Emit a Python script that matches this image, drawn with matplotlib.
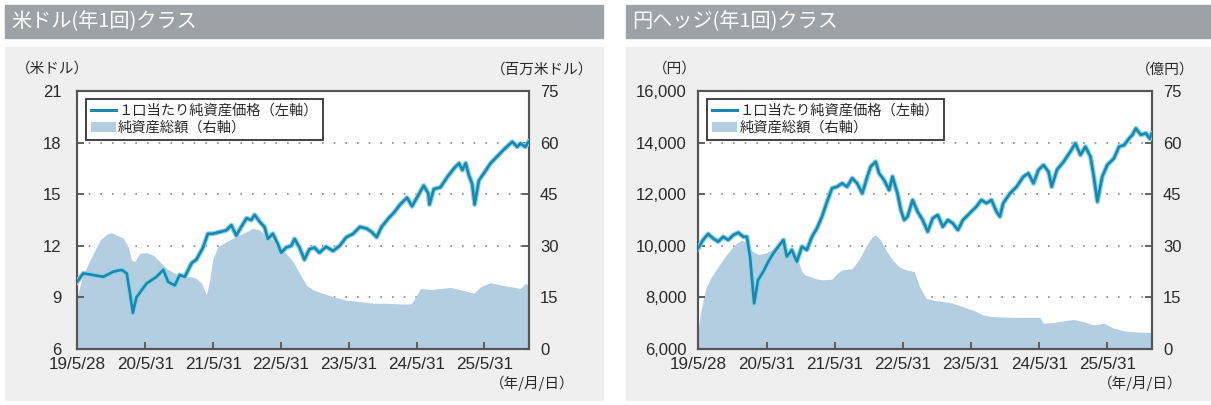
import matplotlib
matplotlib.use("Agg")
import matplotlib.pyplot as plt
import matplotlib.patheffects as pe
from matplotlib.patches import Rectangle
from matplotlib.lines import Line2D
import pandas as pd

plt.rcParams['font.family'] = ['Noto Sans CJK JP', 'DejaVu Sans']

W, H = 1211, 405

# ---- data ----
x_start = "2019-05-28"
x_end = "2026-01-26"
tick_dates = ["2019-05-28", "2020-05-31", "2021-05-31", "2022-05-31",
              "2023-05-31", "2024-05-31", "2025-05-31"]
tick_labels = ["19/5/28", "20/5/31", "21/5/31", "22/5/31",
               "23/5/31", "24/5/31", "25/5/31"]

legend_labels = ["１口当たり純資産価格（左軸）", "純資産総額（右軸）"]

# 米ドル(年1回)クラス
usd_title = "米ドル(年1回)クラス"
usd_left_unit = "（米ドル）"
usd_right_unit = "（百万米ドル）"
usd_left_ticks = [6, 9, 12, 15, 18, 21]
usd_left_labels = ["6", "9", "12", "15", "18", "21"]
usd_right_ticks = [0, 15, 30, 45, 60, 75]
usd_right_labels = ["0", "15", "30", "45", "60", "75"]

usd_nav_dates = [
    "2019-05-28", "2019-07-01", "2019-08-24", "2019-10-17", "2019-12-10", "2020-01-24",
    "2020-02-20", "2020-03-09", "2020-03-24", "2020-04-12", "2020-06-05", "2020-07-29",
    "2020-09-04", "2020-09-30", "2020-11-05", "2020-12-01", "2020-12-29", "2021-02-04",
    "2021-03-01", "2021-04-06", "2021-05-02", "2021-05-28", "2021-07-04", "2021-08-10",
    "2021-09-05", "2021-10-02", "2021-10-29", "2021-11-26", "2021-12-22", "2022-01-09",
    "2022-02-05", "2022-03-03", "2022-03-21", "2022-04-17", "2022-05-14", "2022-06-01",
    "2022-06-28", "2022-07-25", "2022-08-12", "2022-09-08", "2022-10-04", "2022-10-31",
    "2022-11-27", "2022-12-24", "2023-01-29", "2023-03-07", "2023-04-12", "2023-05-18",
    "2023-06-24", "2023-07-30", "2023-09-05", "2023-10-02", "2023-10-28", "2023-11-24",
    "2023-12-31", "2024-01-27", "2024-03-03", "2024-04-09", "2024-05-06", "2024-06-01",
    "2024-07-08", "2024-08-01", "2024-08-08", "2024-08-31", "2024-10-06", "2024-11-12",
    "2024-12-18", "2025-01-14", "2025-02-01", "2025-02-19", "2025-03-08", "2025-03-26",
    "2025-04-08", "2025-05-01", "2025-05-27", "2025-07-03", "2025-08-08", "2025-09-13",
    "2025-10-28", "2025-11-23", "2025-12-11", "2026-01-06", "2026-01-24"]
usd_nav = [
    9.9, 10.4, 10.3, 10.2, 10.5, 10.6,
    10.4, 9.2, 8.1, 9.0, 9.8, 10.2,
    10.6, 9.9, 9.7, 10.3, 10.2, 11.0,
    11.2, 11.9, 12.7, 12.7, 12.8, 12.9,
    13.2, 12.6, 13.1, 13.6, 13.5, 13.8,
    13.4, 13.1, 12.4, 12.7, 12.1, 11.6,
    11.9, 12.0, 12.4, 11.9, 11.2, 11.8,
    11.9, 11.6, 11.95, 11.7, 12.0, 12.5,
    12.7, 13.1, 13.0, 12.8, 12.5, 13.1,
    13.6, 13.9, 14.4, 14.8, 14.3, 14.8,
    15.5, 15.05, 14.4, 15.3, 15.4, 16.0,
    16.5, 16.8, 16.4, 16.8, 16.1, 15.6,
    14.4, 15.8, 16.2, 16.8, 17.2, 17.6,
    18.05, 17.75, 17.95, 17.75, 18.05]

usd_aum_dates = [
    "2019-05-28", "2019-06-21", "2019-07-20", "2019-08-24", "2019-09-30", "2019-11-05",
    "2019-12-01", "2019-12-28", "2020-02-02", "2020-02-28", "2020-03-16", "2020-04-03",
    "2020-04-30", "2020-06-05", "2020-07-11", "2020-08-16", "2020-09-21", "2020-11-05",
    "2020-12-20", "2021-02-04", "2021-03-01", "2021-03-29", "2021-04-24", "2021-05-12",
    "2021-05-28", "2021-06-24", "2021-08-10", "2021-10-02", "2021-11-26", "2021-12-31",
    "2022-02-05", "2022-03-13", "2022-04-17", "2022-05-24", "2022-06-28", "2022-08-04",
    "2022-09-08", "2022-10-14", "2022-11-19", "2023-01-11", "2023-03-07", "2023-05-18",
    "2023-07-30", "2023-10-11", "2023-12-21", "2024-03-03", "2024-04-27", "2024-05-15",
    "2024-06-21", "2024-08-13", "2024-10-06", "2024-11-30", "2025-01-22", "2025-04-05",
    "2025-05-10", "2025-07-03", "2025-08-26", "2025-10-20", "2025-12-11", "2026-01-06",
    "2026-01-26"]
usd_aum = [
    15.0, 20.0, 23.9, 27.8, 31.7, 33.4,
    33.8, 33.1, 32.2, 29.7, 25.9, 25.4,
    27.8, 28.0, 27.3, 25.4, 23.4, 22.0,
    21.0, 21.0, 20.5, 19.1, 15.7, 20.1,
    25.9, 29.7, 31.2, 32.7, 34.1, 35.1,
    34.6, 32.7, 31.7, 29.7, 27.8, 25.4,
    22.0, 18.6, 17.2, 16.2, 15.2, 14.2,
    13.8, 13.3, 13.3, 13.1, 13.1, 14.2,
    17.6, 17.3, 17.6, 17.9, 17.2, 16.2,
    18.1, 19.3, 18.6, 18.1, 17.6, 19.1,
    18.6]

# 円ヘッジ(年1回)クラス
jpy_title = "円ヘッジ(年1回)クラス"
jpy_left_unit = "（円）"
jpy_right_unit = "（億円）"
jpy_left_ticks = [6000, 8000, 10000, 12000, 14000, 16000]
jpy_left_labels = ["6,000", "8,000", "10,000", "12,000", "14,000", "16,000"]
jpy_right_ticks = [0, 15, 30, 45, 60, 75]
jpy_right_labels = ["0", "15", "30", "45", "60", "75"]

jpy_nav_dates = [
    "2019-05-28", "2019-06-24", "2019-07-21", "2019-08-17", "2019-09-13", "2019-10-10",
    "2019-11-06", "2019-12-04", "2019-12-30", "2020-01-26", "2020-02-14", "2020-03-02",
    "2020-03-24", "2020-04-14", "2020-05-12", "2020-06-08", "2020-07-05", "2020-08-01",
    "2020-08-28", "2020-09-15", "2020-10-12", "2020-11-08", "2020-12-05", "2021-01-01",
    "2021-01-28", "2021-02-24", "2021-03-23", "2021-04-19", "2021-05-16", "2021-06-12",
    "2021-07-09", "2021-08-05", "2021-09-01", "2021-09-28", "2021-10-25", "2021-11-21",
    "2021-12-09", "2022-01-05", "2022-01-23", "2022-02-19", "2022-03-18", "2022-04-05",
    "2022-05-02", "2022-05-20", "2022-06-07", "2022-06-25", "2022-07-22", "2022-08-18",
    "2022-09-14", "2022-10-11", "2022-11-07", "2022-12-04", "2022-12-31", "2023-01-27",
    "2023-02-23", "2023-03-22", "2023-04-18", "2023-05-24", "2023-06-29", "2023-07-26",
    "2023-08-22", "2023-09-18", "2023-10-15", "2023-11-02", "2023-11-20", "2023-12-26",
    "2024-01-31", "2024-03-07", "2024-04-03", "2024-04-30", "2024-05-27", "2024-06-23",
    "2024-07-20", "2024-08-06", "2024-09-03", "2024-10-09", "2024-11-14", "2024-12-11",
    "2025-01-07", "2025-02-03", "2025-03-02", "2025-03-20", "2025-04-08", "2025-05-04",
    "2025-05-31", "2025-07-06", "2025-08-02", "2025-08-29", "2025-09-25", "2025-10-13",
    "2025-10-31", "2025-11-27", "2025-12-24", "2026-01-14", "2026-01-24"]
jpy_nav = [
    9900, 10225, 10460, 10290, 10160, 10350,
    10225, 10420, 10510, 10350, 10350, 9580,
    7770, 8675, 9000, 9385, 9710, 9970,
    10225, 9580, 9840, 9385, 9970, 9840,
    10350, 10680, 11130, 11710, 12230, 12290,
    12420, 12290, 12620, 12420, 12030, 12680,
    13070, 13260, 12810, 12550, 12160, 12680,
    12030, 11390, 11000, 11130, 11775, 11320,
    11000, 10550, 11065, 11195, 10740, 11000,
    10870, 10610, 11000, 11260, 11520, 11775,
    11650, 11775, 11320, 11130, 11650, 12030,
    12290, 12680, 12810, 12420, 12940, 13130,
    12870, 12290, 12940, 13260, 13650, 13970,
    13520, 13840, 13455, 12680, 11710, 12680,
    13130, 13390, 13840, 13900, 14160, 14300,
    14550, 14300, 14360, 14150, 14350]

jpy_aum_dates = [
    "2019-05-28", "2019-06-11", "2019-06-24", "2019-07-12", "2019-08-08", "2019-09-13",
    "2019-10-19", "2019-11-24", "2019-12-21", "2020-01-17", "2020-02-14", "2020-03-13",
    "2020-04-14", "2020-05-21", "2020-07-14", "2020-08-19", "2020-10-12", "2020-11-17",
    "2020-12-05", "2020-12-23", "2021-02-15", "2021-03-23", "2021-05-16", "2021-06-12",
    "2021-07-09", "2021-09-01", "2021-10-07", "2021-11-12", "2021-12-18", "2022-01-05",
    "2022-02-01", "2022-02-28", "2022-04-05", "2022-05-11", "2022-06-16", "2022-08-01",
    "2022-08-28", "2022-10-03", "2022-11-07", "2022-12-31", "2023-02-23", "2023-04-18",
    "2023-06-11", "2023-08-04", "2023-09-27", "2024-01-12", "2024-04-30", "2024-06-04",
    "2024-06-22", "2024-08-16", "2024-10-09", "2024-12-02", "2025-01-25", "2025-03-20",
    "2025-05-13", "2025-07-06", "2025-08-29", "2025-10-22", "2026-01-26"]
jpy_aum = [
    5.0, 10.4, 14.2, 18.1, 21.0, 23.9,
    26.8, 29.3, 30.7, 31.7, 30.7, 28.5,
    27.5, 27.8, 29.3, 29.7, 27.8, 25.4,
    22.5, 21.5, 20.5, 20.1, 20.3, 22.0,
    23.0, 23.4, 25.9, 29.7, 32.7, 33.1,
    31.7, 28.8, 25.9, 23.9, 23.0, 22.5,
    18.1, 14.7, 14.2, 13.8, 13.3, 12.3,
    11.3, 9.9, 9.4, 9.2, 9.2, 9.2,
    7.5, 7.7, 8.2, 8.6, 7.9, 7.0,
    7.5, 6.0, 5.3, 5.0, 4.8]

# ---- style ----
LINE_C = "#1b87ad"
HALO_C = "#86d4ea"
FILL_C = "#b3cee0"
PANEL_BG = "#efefef"
BAR_C = "#9ca2a5"
SPINE_C = "#555555"
TEXT_C = "#2a2a2a"


def fx(x):
    return x / W


def fy(y):
    return 1 - y / H


def draw_panel(fig, x0, x1, ax_l, ax_r, title, lunit, runit, lunit_x, runit_x,
               nav_dates, nav, aum_dates, aum,
               lticks, llabels, rticks, rlabels, ypad):
    # panel background + title bar
    fig.patches.append(Rectangle((fx(x0), fy(400)), fx(x1 - x0), (400 - 47) / H,
                                 transform=fig.transFigure, color=PANEL_BG, zorder=-10))
    fig.patches.append(Rectangle((fx(x0), fy(38)), fx(x1 - x0), (38 - 5) / H,
                                 transform=fig.transFigure, color=BAR_C, zorder=-10))
    fig.text(fx(x0 + 6), fy(22), title, color="white", fontsize=14.5,
             ha="left", va="center")
    fig.text(fx(lunit_x), fy(69), lunit, color=TEXT_C, fontsize=10.5,
             ha="center", va="center")
    fig.text(fx(runit_x), fy(70), runit, color=TEXT_C, fontsize=10.5,
             ha="center", va="center")
    fig.text(fx(x1 - 28), fy(383), "（年/月/日）", color=TEXT_C, fontsize=10.5,
             ha="right", va="center")

    rect = [fx(ax_l), fy(349), fx(ax_r - ax_l), (349 - 91) / H]
    ax2 = fig.add_axes(rect)
    ax = ax2.twinx()
    ax.remove()
    ax = fig.add_axes(rect, sharex=ax2)
    ax.set_zorder(ax2.get_zorder() + 1)
    ax.patch.set_visible(False)

    # right axis: total net assets
    ad = pd.to_datetime(aum_dates)
    ax2.fill_between(ad, 0, aum, color=FILL_C, linewidth=0, zorder=2)
    for g in rticks[1:-1]:
        ax2.axhline(g, color="#8a8a8a", linewidth=1.2,
                    linestyle=(0, (1, 6)), zorder=1)
    ax2.set_ylim(rticks[0], rticks[-1])
    ax2.yaxis.tick_right()
    ax2.set_yticks(rticks, rlabels, fontsize=12, fontfamily="Liberation Sans",
                   color=TEXT_C)

    # left axis: NAV per unit
    nd = pd.to_datetime(nav_dates)
    ax.plot(nd, nav, color=LINE_C, linewidth=1.9, zorder=3,
            path_effects=[pe.Stroke(linewidth=3.6, foreground=HALO_C), pe.Normal()])
    ax.set_ylim(lticks[0], lticks[-1])
    ax.set_yticks(lticks, llabels, fontsize=12, fontfamily="Liberation Sans",
                  color=TEXT_C)
    ax.set_xlim(pd.Timestamp(x_start), pd.Timestamp(x_end))
    ax.set_xticks(pd.to_datetime(tick_dates), tick_labels, fontsize=12.3,
                  fontfamily="Liberation Sans", color=TEXT_C)

    for a in (ax, ax2):
        for s in a.spines.values():
            s.set_color(SPINE_C)
            s.set_linewidth(1.5)
    ax.tick_params(axis="y", direction="in", length=5, width=1.3,
                   color=SPINE_C, pad=ypad)
    ax.tick_params(axis="x", direction="in", length=5, width=1.3,
                   color=SPINE_C, pad=6)
    ax2.tick_params(axis="y", direction="in", length=5, width=1.3,
                    color=SPINE_C, pad=8)
    ax2.tick_params(axis="x", bottom=False, labelbottom=False)
    # no tick mark at the first date (axis corner)
    ax.xaxis.get_major_ticks()[0].tick1line.set_visible(False)

    handles = [Line2D([], [], color=LINE_C, linewidth=2.2),
               Rectangle((0, 0), 1, 1, facecolor=FILL_C, edgecolor="none")]
    leg = ax.legend(handles, legend_labels, loc="upper left",
                    bbox_to_anchor=(9 / (ax_r - ax_l), 1 - 8 / 258),
                    borderaxespad=0, fancybox=False, framealpha=1,
                    edgecolor="#333333", fontsize=10.3, handlelength=1.75,
                    handletextpad=0.15, labelspacing=0.2, borderpad=0.35)
    leg.get_frame().set_linewidth(1.3)
    for t in leg.get_texts():
        t.set_color(TEXT_C)


fig = plt.figure(figsize=(W / 100, H / 100), dpi=100)
fig.patch.set_facecolor("white")

draw_panel(fig, 5, 603, 77, 529, usd_title, usd_left_unit, usd_right_unit, 52, 542,
           usd_nav_dates, usd_nav, usd_aum_dates, usd_aum,
           usd_left_ticks, usd_left_labels, usd_right_ticks, usd_right_labels, 11)
draw_panel(fig, 626, 1211, 698, 1152, jpy_title, jpy_left_unit, jpy_right_unit, 675, 1165,
           jpy_nav_dates, jpy_nav, jpy_aum_dates, jpy_aum,
           jpy_left_ticks, jpy_left_labels, jpy_right_ticks, jpy_right_labels, 8)

fig.savefig("out.png", dpi=100)
